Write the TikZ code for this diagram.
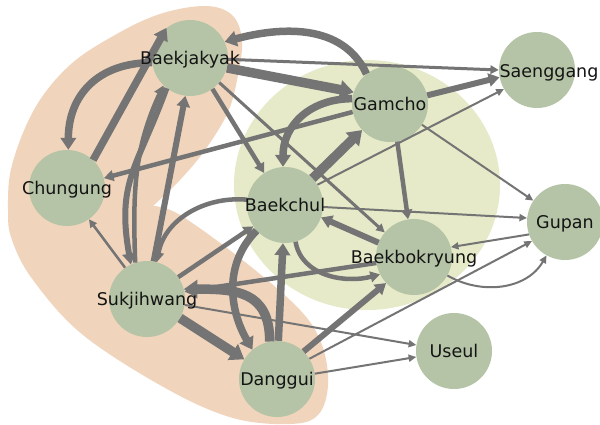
\documentclass[tikz,border=0pt]{standalone}
\usepackage{fontspec}
\setmainfont{DejaVu Sans}
\usetikzlibrary{arrows.meta}
\definecolor{peach}{HTML}{F0D4BC}
\definecolor{paleg}{HTML}{E6EAC8}
\definecolor{nodeg}{HTML}{B5C4A7}
\definecolor{edgec}{HTML}{747474}
\begin{document}
\begin{tikzpicture}[x=1pt,y=1pt,
  nd/.style={circle, fill=nodeg, minimum size=76pt, inner sep=0pt},
  lbl/.style={font=\fontsize{17.5}{20}\selectfont, text=black!92, inner sep=0pt, text height=12.6pt, text depth=0pt},
  ed/.style={draw=edgec, -{Triangle[length=6pt 0.8, width=4pt 1.5]}},
  w1/.style={ed, line width=2pt},
  w2/.style={ed, line width=3pt},
  w3/.style={ed, line width=4.5pt},
  w4/.style={ed, line width=6pt},
  w5/.style={ed, line width=7.5pt},
  w6/.style={ed, line width=9.5pt}]
\useasboundingbox (0,-425) rectangle (600,0);
\fill[white] (0,-425) rectangle (600,0);
% peach region
\fill[peach] plot[smooth, tension=0.6] coordinates {
 (153,-206) (180,-180) (205,-150) (228,-112) (238,-75) (242,-40) (232,-15)
 (205,-6) (160,-14) (115,-35) (70,-65) (35,-108) (12,-165) (8,-210) (12,-240)
 (33,-280) (83,-335) (167,-389) (233,-418) (290,-424) (318,-415) (328,-385)
 (322,-345) (300,-310) (245,-262) (180,-215) (153,-206)} -- cycle;
% pale green region
\fill[paleg] (367,-185) ellipse [x radius=133, y radius=125];
% nodes
\node[nd] (bj) at (190,-58) {};
\node[nd] (gc) at (390,-104) {};
\node[nd] (sg) at (537,-70) {};
\node[nd] (cg) at (67,-188) {};
\node[nd] (bc) at (285,-205) {};
\node[nd] (gp) at (565,-222) {};
\node[nd] (bb) at (414,-257) {};
\node[nd] (sj) at (147,-299) {};
\node[nd] (dg) at (277,-379) {};
\node[nd] (us) at (454,-351) {};
% edges
\draw[w5] (gc.128) to[out=115, in=15] (bj.25);
\draw[w2] (bj.-2) -- (sg.180);
\draw[w6] (bj.-15) -- (gc.162);
\draw[w4] (gc.13) -- (sg.191);
\draw[w1] (bc.32) -- (sg.210);
\draw[w1] (gc.-33) -- (gp.146);
\draw[w3] (gc.192) -- (cg.15);
\draw[w5] (gc.172) to[out=180, in=90, looseness=1.1] (bc.93);
\draw[w6] (bc.44) -- (gc.223);
\draw[w3] (gc.-79) -- (bb.99);
\draw[w3] (bj.-54) -- (bc.123);
\draw[w2] (bj.-40) -- (bb.140);
\draw[w1] (bc.-3) -- (gp.174);
\draw[w4] (bb.158) -- (bc.-19);
\draw[w3] (bc.-74) to[out=-80, in=195] (bb.207);
\draw[w1] (gp.199) -- (bb.15);
\draw[w1] (bb.-29) to[out=-30, in=240] (gp.241);
\draw[w1] (dg.32) -- (gp.210);
\draw[w4] (dg.46) -- (bb.223);
\draw[w1] (dg.8) -- (us.189);
\draw[w1] (sj.-9) -- (us.171);
\draw[w3] (bb.189) -- (sj.11);
\draw[w6] (dg.101) to[out=90, in=0, looseness=1.3] (sj.15);
\draw[w5] (bc.222) to[out=225, in=120] (dg.130);
\draw[w5] (dg.88) -- (bc.-93);
\draw[w6] (sj.-30) -- (dg.149);
\draw[w3] (sj.35) -- (bc.214);
\draw[w3] (bc.172) to[out=175, in=80] (sj.75);
\draw[w5] (bj.187) to[out=180, in=90, looseness=1.15] (cg.88);
\draw[w5] (cg.47) -- (bj.128);
\draw[ed, line width=2.5pt] (sj.125) -- (cg.-55);
\draw[w4] (sj.80) -- (bj.-97);
\draw[w4] (bj.232) to[out=250, in=100, looseness=1.2] (sj.115);
\draw[w3] (sj.108) to[out=92, in=245] (bj.226);
% labels
\node[lbl] (tbj) at (bj) {Baekjakyak};
\node[lbl] (tgc) at (gc) {Gamcho};
\node[lbl] (tsg) at (549,-71) {Saenggang};
\node[lbl] (tcg) at (cg) {Chungung};
\node[lbl] (tbc) at (bc) {Baekchul};
\node[lbl] (tgp) at (gp) {Gupan};
\node[lbl] (tbb) at (bb) {Baekbokryung};
\node[lbl] (tsj) at (sj) {Sukjihwang};
\node[lbl] (tdg) at (dg) {Danggui};
\node[lbl] (tus) at (us) {Useul};
\end{tikzpicture}
\end{document}
